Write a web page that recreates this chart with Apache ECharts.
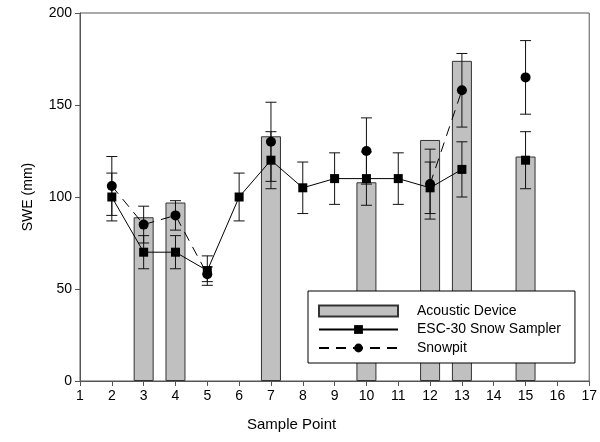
<!DOCTYPE html>
<html>
<head>
<meta charset="utf-8">
<script src="https://cdn.jsdelivr.net/npm/echarts@6/dist/echarts.min.js"></script>
<style>
  html, body { margin: 0; padding: 0; background: #fff; }
  #chart { width: 600px; height: 442px; }
</style>
</head>
<body>
<div id="chart"></div>
<script>
// sample points along the x axis; null = no measurement at that point
const points = [2, 3, 4, 5, 6, 7, 8, 9, 10, 11, 12, 13, 14, 15]
const acousticSWE = [null, 89, 97, null, null, 133, null, null, 108, null, 131, 174, null, 122]
const escSWE = [100, 70, 70, 60, 100, 120, 105, 110, 110, 110, 105, 115, null, 120]
const escErr = [13, 9, 9, 8, 13, 15.5, 14, 14, 14.5, 14, 14, 15, null, 15.5]
const pitSWE = [106, 85, 90, 58, null, 130, null, null, 125, null, 107, 158, null, 165]
const pitErr = [16, 10, 8, 4, null, 21.5, null, null, 18, null, 19, 20, null, 20]
const xTicks = [1, 17, 1]   // min, max, step
const yTicks = [0, 200, 50]

const font = 'Liberation Sans, Arial, sans-serif'

function lineData (vals) {
  return points.map((x, i) => [x, vals[i] == null ? '-' : vals[i]])
}
function barData (vals) {
  return points.map((x, i) => [x, vals[i]]).filter(d => d[1] != null)
}
function errData (vals, errs) {
  return points.map((x, i) => [x, vals[i], errs[i]]).filter(d => d[1] != null)
}

// vertical error bar with caps
function errorBar (params, api) {
  const x = api.value(0)
  const y = api.value(1)
  const e = api.value(2)
  const hi = api.coord([x, y + e])
  const lo = api.coord([x, y - e])
  const w = 5.5
  const style = { stroke: '#111', lineWidth: 1 }
  return {
    type: 'group',
    children: [
      { type: 'line', shape: { x1: hi[0], y1: hi[1], x2: lo[0], y2: lo[1] }, style },
      { type: 'line', shape: { x1: hi[0] - w, y1: hi[1], x2: hi[0] + w, y2: hi[1] }, style },
      { type: 'line', shape: { x1: lo[0] - w, y1: lo[1], x2: lo[0] + w, y2: lo[1] }, style }
    ]
  }
}

const chart = echarts.init(document.getElementById('chart'))
const axisCommon = {
  type: 'value',
  axisLine: { show: true, lineStyle: { color: '#555', width: 1 } },
  axisTick: { show: true, inside: false, length: 5, lineStyle: { color: '#555' } },
  axisLabel: { color: '#000', fontSize: 14, fontFamily: font },
  splitLine: { show: false },
  nameLocation: 'middle',
  nameTextStyle: { color: '#000', fontSize: 14, fontFamily: font }
}

chart.setOption({
  animation: false,
  grid: { left: 80, right: 7, top: 13, bottom: 61, show: true, borderColor: '#555', borderWidth: 1 },
  xAxis: Object.assign({}, axisCommon, {
    min: xTicks[0], max: xTicks[1], interval: xTicks[2],
    name: 'Sample Point',
    nameGap: 36,
    nameTextStyle: { color: '#000', fontSize: 15, fontFamily: font, padding: [0, 86, 0, 0] },
    axisLabel: { color: '#000', fontSize: 14, fontFamily: font, margin: 8 }
  }),
  yAxis: Object.assign({}, axisCommon, {
    min: yTicks[0], max: yTicks[1], interval: yTicks[2],
    name: 'SWE (mm)',
    nameGap: 45,
    axisLabel: { color: '#000', fontSize: 14, fontFamily: font, margin: 8 }
  }),
  legend: {
    data: [
      { name: 'Acoustic Device', icon: 'rect' },
      'ESC-30 Snow Sampler',
      'Snowpit'
    ],
    orient: 'vertical',
    left: 308,
    top: 291,
    padding: [13, 14, 8, 10],
    itemWidth: 79,
    itemHeight: 11,
    itemGap: 4.5,
    backgroundColor: '#fff',
    borderColor: '#000',
    borderWidth: 1,
    borderRadius: 0,
    textStyle: { color: '#000', fontSize: 14, fontFamily: font, lineHeight: 14, padding: [0, 0, 0, 14] }
  },
  series: [
    {
      name: 'Acoustic Device',
      type: 'bar',
      barWidth: 20,
      z: 1,
      itemStyle: { color: '#c0c0c0', borderColor: '#333', borderWidth: 1 },
      data: barData(acousticSWE)
    },
    {
      type: 'custom',
      renderItem: errorBar,
      z: 2,
      encode: { x: 0, y: 1 },
      data: errData(escSWE, escErr)
    },
    {
      type: 'custom',
      renderItem: errorBar,
      z: 2,
      encode: { x: 0, y: 1 },
      data: errData(pitSWE, pitErr)
    },
    {
      name: 'ESC-30 Snow Sampler',
      type: 'line',
      z: 3,
      symbol: 'rect',
      symbolSize: 9,
      showSymbol: true,
      connectNulls: false,
      itemStyle: { color: '#000' },
      lineStyle: { color: '#000', width: 1 },
      data: lineData(escSWE)
    },
    {
      name: 'Snowpit',
      type: 'line',
      z: 3,
      symbol: 'circle',
      symbolSize: 10,
      showSymbol: true,
      connectNulls: false,
      itemStyle: { color: '#000' },
      lineStyle: { color: '#000', width: 1, type: [10, 7] },
      data: lineData(pitSWE)
    }
  ]
})
</script>
</body>
</html>
